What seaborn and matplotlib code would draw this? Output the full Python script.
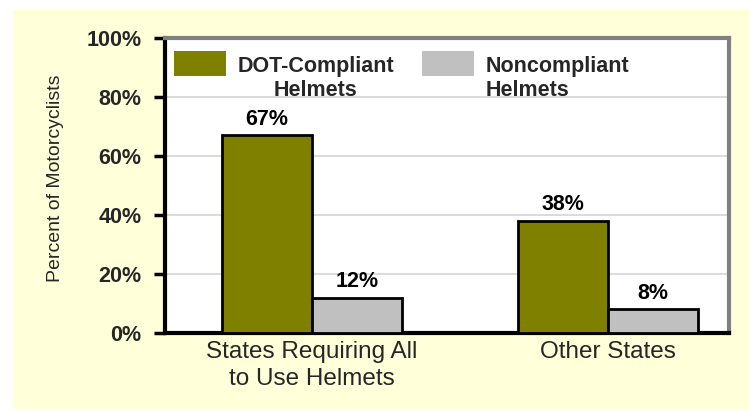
import matplotlib
matplotlib.use("Agg")
import matplotlib.pyplot as plt
from matplotlib.patches import Rectangle, Patch
from matplotlib.legend_handler import HandlerPatch
import seaborn as sns
import pandas as pd

categories = ["States Requiring All\nto Use Helmets", "Other States"]
series_names = ["DOT-Compliant\nHelmets", "Noncompliant\nHelmets"]
dot_compliant = [67, 38]
noncompliant = [12, 8]
y_ticks = [0, 20, 40, 60, 80, 100]
y_tick_labels = ["0%", "20%", "40%", "60%", "80%", "100%"]

colors = ["#808000", "#C0C0C0"]
bg = "#FFFFDA"

df = pd.DataFrame({
    "category": categories * 2,
    "series": [series_names[0]] * 2 + [series_names[1]] * 2,
    "value": dot_compliant + noncompliant,
})

sns.set_style("white")
plt.rcParams["font.family"] = ["Liberation Sans", "DejaVu Sans"]

fig = plt.figure(figsize=(7.49, 4.11), dpi=100)
fig.patch.set_facecolor("white")
fig.patches.append(Rectangle((13 / 749, 2 / 411), 736 / 749, 399 / 411,
                             transform=fig.transFigure, facecolor=bg,
                             edgecolor="none", zorder=-10))
ax = fig.add_axes([165 / 749, (411 - 333) / 411, 564 / 749, 295 / 411])
ax.set_facecolor("white")

sns.barplot(data=df, x="category", y="value", hue="series",
            order=categories, hue_order=series_names,
            palette=colors, width=0.61, gap=0, saturation=1,
            edgecolor="black", linewidth=2, ax=ax, legend=False, zorder=3)

for cont, vals in zip(ax.containers, [dot_compliant, noncompliant]):
    ax.bar_label(cont, labels=[f"{v}%" for v in vals], padding=4,
                 fontsize=15.5, fontweight="bold", color="black")

ax.set_ylim(0, 100)
ax.set_xlim(-0.497, 1.409)
ax.set_yticks(y_ticks)
ax.set_yticklabels(y_tick_labels, fontsize=15.5, fontweight="bold")
ax.tick_params(axis="y", direction="out", length=8, width=2.5, color="black",
               pad=9, left=True)
ax.tick_params(axis="x", length=0, pad=6)
for t in ax.get_xticklabels():
    t.set_fontsize(17.5)
    t.set_linespacing(1.3)
ax.set_xlabel("")
ax.set_ylabel("Percent of Motorcyclists", fontsize=14)
ax.yaxis.set_label_coords(-0.179, 0.525)

ax.yaxis.grid(True, color="#D4D4D4", linewidth=1.2, zorder=0)
ax.set_axisbelow(True)

for side in ["left", "bottom"]:
    ax.spines[side].set_color("black")
    ax.spines[side].set_linewidth(3)
    ax.spines[side].set_visible(True)
for side in ["top", "right"]:
    ax.spines[side].set_color("#808080")
    ax.spines[side].set_linewidth(3)
    ax.spines[side].set_visible(True)


def raised_rect(legend, orig_handle, xdescent, ydescent, width, height, fontsize):
    return Rectangle((-xdescent, -ydescent + 11.5), width, height)


handles = [Patch(facecolor=c, edgecolor="none") for c in colors]
leg = ax.legend(handles, series_names, loc="upper left",
                bbox_to_anchor=(0.016, 0.94), ncol=2, frameon=False,
                prop={"size": 15.5, "weight": "bold"},
                handlelength=2.4, handleheight=1.4, handletextpad=0.55,
                columnspacing=1.3, borderpad=0, borderaxespad=0,
                handler_map={Patch: HandlerPatch(patch_func=raised_rect)})
leg.get_texts()[0].set_multialignment("center")
leg.get_texts()[1].set_multialignment("left")

fig.savefig("out.png", dpi=100, facecolor=fig.get_facecolor())
